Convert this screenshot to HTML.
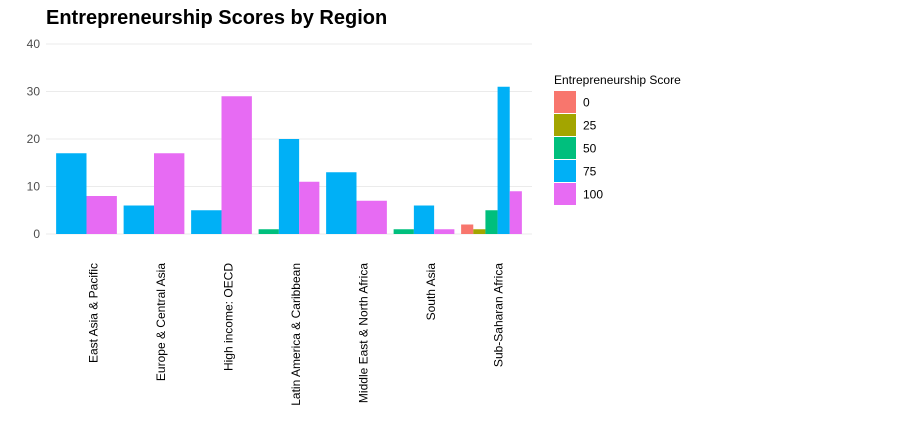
<!DOCTYPE html>
<html><head><meta charset="utf-8">
<style>
body{margin:0;background:#fff;}
svg{display:block;font-family:"Liberation Sans",Arial,sans-serif;}
</style></head>
<body>
<svg id="chart" width="913" height="432" viewBox="0 0 913 432">
<text x="46" y="24" font-size="20" font-weight="bold" fill="#000">Entrepreneurship Scores by Region</text>
<g id="grid"></g><g id="bars"></g><g id="axes"></g><g id="legend"></g>
</svg>
<script>
const categories=["East Asia & Pacific","Europe & Central Asia","High income: OECD","Latin America & Caribbean","Middle East & North Africa","South Asia","Sub-Saharan Africa"];
const scoreLevels=["0","25","50","75","100"];
const colors=["#F8766D","#A3A500","#00BF7D","#00B0F6","#E76BF3"];
const s0  =[null,null,null,null,null,null,2];
const s25 =[null,null,null,null,null,null,1];
const s50 =[null,null,null,1,null,1,5];
const s75 =[17,6,5,20,13,6,31];
const s100=[8,17,29,11,7,1,9];
const yTicks=[0,10,20,30,40];
const series=[s0,s25,s50,s75,s100];
const NS="http://www.w3.org/2000/svg";
const left=46,right=532,y0=234,pxPer=4.75;
const step=(right-left)/7.2;
const xC=i=>left+(0.6+i)*step;
const yS=v=>y0-v*pxPer;
function mk(t,a,p){const e=document.createElementNS(NS,t);for(const k in a)e.setAttribute(k,a[k]);p.appendChild(e);return e;}
const grid=document.getElementById('grid'),bars=document.getElementById('bars'),axes=document.getElementById('axes'),legend=document.getElementById('legend');
yTicks.forEach(t=>{
  const l=mk('line',{x1:left,x2:right,y1:yS(t),y2:yS(t),stroke:'#ebebeb','stroke-width':1},grid);
  
  
  const tx=mk('text',{x:40,y:yS(t)+4,'text-anchor':'end','font-size':12,fill:'#4d4d4d'},axes);
  tx.textContent=t;
  
  
});
categories.forEach((c,i)=>{
  const present=[];series.forEach((s,k)=>{if(s[i]!=null)present.push(k);});
  const gw=0.9*step,bw=gw/present.length,x0=xC(i)-gw/2;
  present.forEach((k,j)=>{
    const v=series[k][i];
    const r=mk('rect',{x:x0+j*bw,y:yS(v),width:bw,height:v*pxPer,fill:colors[k]},bars);
    
    
  });
  const tx=mk('text',{transform:`translate(${xC(i)+11},263) rotate(-90)`,'text-anchor':'end','font-size':12,fill:'#000'},axes);
  tx.textContent=c;
  
  
});
const lt=mk('text',{x:554,y:84,'font-size':12,fill:'#000'},legend);
lt.textContent="Entrepreneurship Score";


scoreLevels.forEach((s,k)=>{
  const y=91+k*23;
  const r=mk('rect',{x:554,y:y,width:22,height:22,fill:colors[k]},legend);
  
  
  const t=mk('text',{x:583,y:y+15.5,'font-size':12,fill:'#000'},legend);
  t.textContent=s;
  
  
});
</script>
</body></html>
